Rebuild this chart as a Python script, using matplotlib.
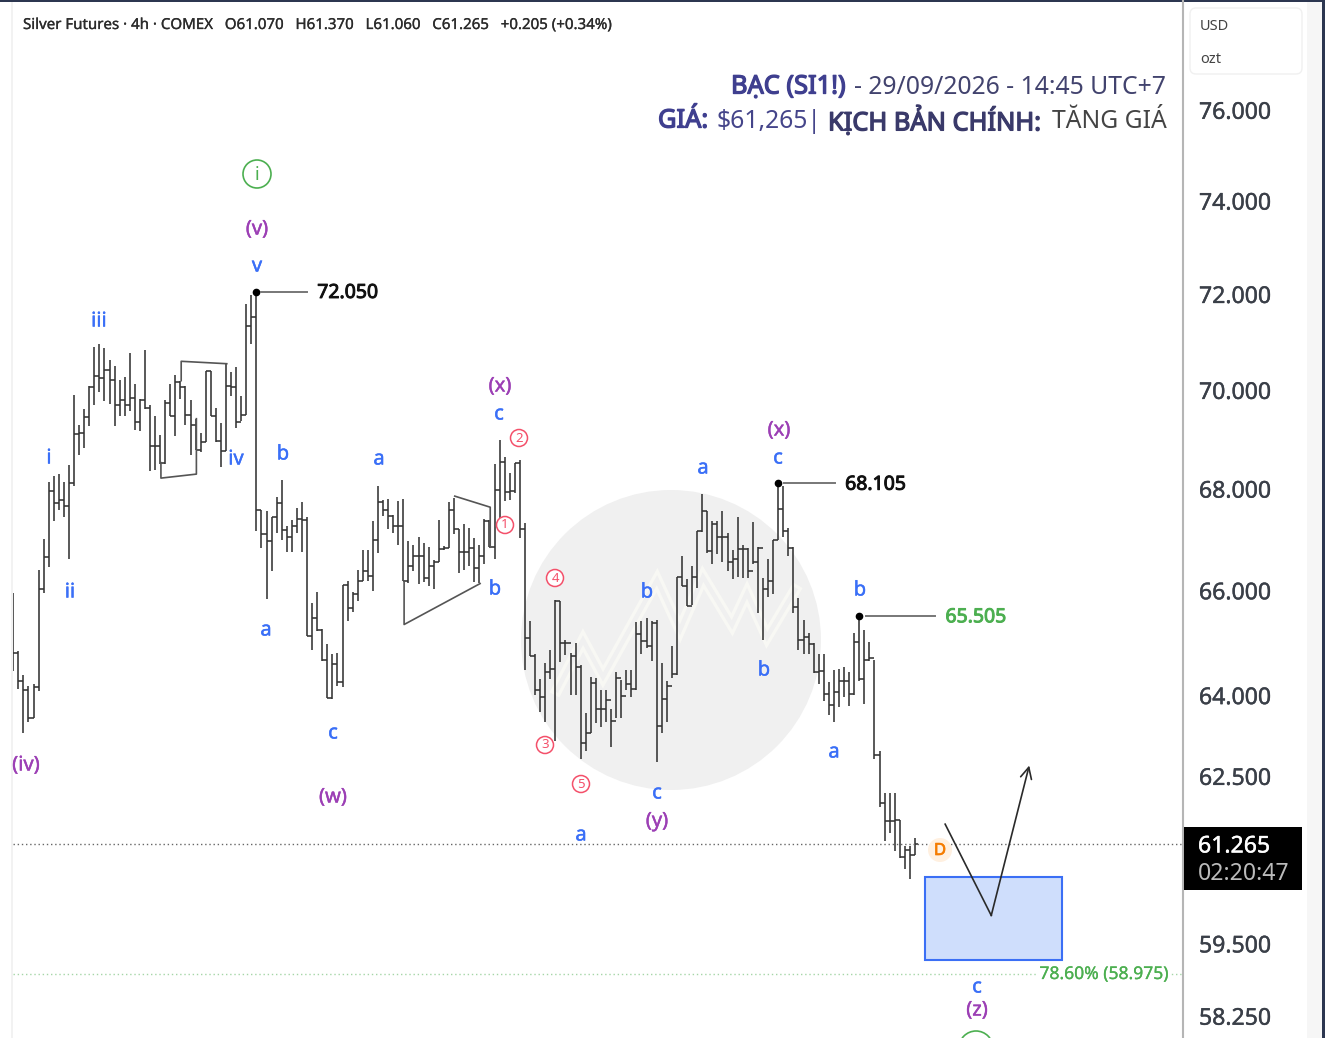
import matplotlib
matplotlib.use('Agg')
import matplotlib.pyplot as plt
import matplotlib.patheffects as pe
from matplotlib.patches import Circle, Rectangle, FancyBboxPatch
import numpy as np

plt.rcParams['font.family'] = ['Noto Sans', 'DejaVu Sans']

highs = [65.95, 64.83, 64.37, 64.18, 64.20, 66.40, 67.01, 68.13, 68.26, 68.30,
         68.13, 68.47, 69.89, 69.28, 69.61, 70.07, 70.89, 70.94, 70.87, 70.62,
         70.50, 70.20, 70.27, 70.77, 70.13, 69.81, 70.83, 69.68, 69.47, 69.07,
         69.79, 70.13, 70.31, 70.18, 70.07, 69.80, 69.41, 69.11, 70.38, 70.38,
         69.63, 69.32, 70.55, 70.36, 70.47, 69.88, 71.78, 71.97, 72.05, 67.58,
         67.55, 67.44, 67.84, 68.18, 67.25, 67.38, 67.61, 67.73, 67.44, 65.76,
         65.96, 65.26, 64.96, 64.77, 64.80, 66.11, 66.18, 65.96, 66.40, 66.78,
         66.79, 67.36, 68.06, 67.78, 67.80, 67.48, 67.75, 67.79, 66.97, 66.89,
         67.05, 66.93, 66.84, 66.58, 67.37, 66.87, 67.73, 67.81, 67.20, 67.29,
         67.22, 67.02, 66.89, 67.40, 67.38, 68.49, 68.97, 68.64, 68.31, 68.51,
         68.58, 67.32, 65.40, 64.78, 64.30, 64.61, 64.86, 65.82, 65.79, 65.04,
         64.80, 64.98, 64.56, 63.66, 64.34, 64.32, 64.09, 64.09, 63.74, 64.43,
         64.29, 64.47, 64.47, 65.39, 65.40, 65.47, 65.40, 65.43, 64.61, 64.26,
         64.92, 66.26, 66.67, 66.22, 66.48, 67.15, 67.90, 67.55, 67.35, 67.35,
         67.55, 67.12, 66.79, 67.44, 66.89, 66.82, 67.33, 66.85, 66.24, 66.60,
         66.99, 68.105, 68.05, 67.22, 66.84, 65.85, 65.43, 65.18, 64.99, 64.77,
         64.77, 64.24, 64.48, 64.49, 64.53, 64.43, 65.18, 65.505, 65.23, 65.00,
         64.66, 62.96, 62.18, 62.18, 62.18, 61.70, 61.22, 61.22, 61.37]

lows = [64.45, 64.11, 63.29, 63.49, 63.57, 64.07, 65.95, 66.45, 67.35, 67.58,
        67.44, 66.60, 68.06, 68.68, 68.81, 69.26, 69.70, 69.96, 69.77, 69.72,
        69.27, 69.47, 69.46, 69.56, 69.19, 69.15, 69.61, 68.36, 68.38, 68.50,
        68.50, 69.47, 69.05, 69.81, 69.29, 68.68, 68.78, 68.73, 68.93, 69.46,
        68.94, 68.44, 68.75, 69.88, 69.23, 69.36, 69.49, 70.94, 67.15, 66.82,
        65.83, 66.37, 67.12, 66.99, 66.74, 66.74, 67.11, 66.74, 65.12, 64.85,
        65.21, 64.64, 63.94, 63.92, 64.18, 64.16, 65.40, 65.58, 65.79, 66.18,
        66.18, 65.98, 66.73, 67.46, 67.19, 67.12, 66.89, 66.18, 66.14, 66.37,
        66.13, 66.16, 66.09, 66.03, 66.56, 66.78, 66.82, 67.09, 66.33, 66.39,
        66.47, 66.16, 66.14, 66.52, 66.84, 66.61, 67.29, 67.75, 67.78, 67.91,
        67.02, 64.47, 64.73, 64.00, 63.69, 63.50, 64.30, 63.15, 64.63, 64.75,
        64.00, 64.00, 62.81, 62.95, 63.29, 63.48, 63.40, 63.49, 63.04, 63.57,
        63.57, 64.10, 63.96, 64.10, 64.78, 64.89, 64.64, 62.76, 63.29, 63.49,
        64.32, 64.38, 66.08, 65.69, 65.72, 66.05, 67.13, 66.73, 66.51, 66.71,
        66.56, 66.37, 66.21, 66.26, 66.24, 66.24, 66.52, 65.56, 65.05, 65.87,
        65.92, 66.99, 67.05, 66.67, 65.56, 64.86, 64.77, 64.77, 64.42, 64.20,
        63.88, 63.63, 63.50, 63.77, 63.97, 63.79, 64.00, 64.26, 63.83, 64.64,
        62.81, 61.93, 61.31, 61.46, 61.13, 61.01, 60.81, 60.63, 61.06]

closes = [64.80, 64.26, 64.10, 63.57, 64.16, 66.03, 66.65, 67.95, 67.71, 67.77,
          67.65, 68.11, 69.09, 69.12, 69.45, 70.06, 70.29, 70.25, 70.42, 70.20,
          69.68, 69.80, 69.68, 69.83, 69.34, 69.80, 69.63, 68.85, 68.85, 68.51,
          69.73, 69.47, 70.16, 70.06, 69.49, 69.29, 68.78, 68.93, 70.38, 69.46,
          68.96, 68.75, 70.08, 70.06, 69.34, 69.49, 71.32, 71.51, 67.58, 67.09,
          66.96, 67.44, 67.71, 67.18, 67.05, 67.26, 67.40, 67.38, 65.12, 65.47,
          65.24, 64.66, 63.94, 64.58, 64.24, 66.10, 65.66, 65.92, 66.18, 66.37,
          66.27, 66.99, 67.73, 67.58, 67.46, 67.26, 67.26, 66.18, 66.48, 66.67,
          66.67, 66.24, 66.47, 66.56, 66.80, 66.82, 67.58, 67.20, 66.74, 66.74,
          66.82, 66.44, 66.67, 67.35, 66.85, 67.98, 68.53, 67.93, 67.95, 68.51,
          67.20, 65.08, 64.73, 64.10, 63.97, 64.43, 64.49, 65.79, 64.99, 64.99,
          64.73, 64.53, 63.10, 63.30, 64.22, 63.74, 63.74, 63.91, 63.52, 64.32,
          63.99, 64.20, 64.11, 65.15, 65.03, 64.92, 65.37, 63.42, 63.93, 64.18,
          64.40, 66.26, 66.09, 65.70, 66.26, 67.15, 67.55, 66.76, 67.29, 67.05,
          67.05, 66.56, 66.61, 66.80, 66.80, 66.37, 66.55, 66.82, 66.03, 66.18,
          66.99, 67.60, 67.15, 66.83, 65.68, 65.04, 65.11, 64.96, 64.44, 64.45,
          64.02, 63.82, 64.05, 64.26, 64.26, 64.02, 65.00, 64.30, 64.67, 64.70,
          62.89, 62.00, 61.67, 61.67, 61.70, 61.02, 61.16, 61.07, 61.265]

# each bar opens where the last one closed, the ticks join up on the chart
opens = [64.90] + closes[:-1]

price_ticks = [76, 74, 72, 70, 68, 66, 64, 62.5, 59.5, 58.25]
last_price = 61.265
fib_price = 58.975
box_prices = [59.21, 60.68]
box_bars = [179.8, 206.9]

# pivot levels: bar, price, start and end of the line, text, colour
levels = [(48, 72.05, 48.8, 57.8, '72.050', '#111111'),
          (151, 68.105, 152.0, 162.0, '68.105', '#111111'),
          (167, 65.505, 168.2, 181.8, '65.505', '#4caf50')]

# hand drawn shapes on the chart (bar, price)
shapes = [[(29, 68.52), (29, 68.21), (36, 68.29), (36, 69.41)],
          [(33, 70.19), (33, 70.59), (42, 70.54)],
          [(77, 66.18), (77, 65.34), (92, 66.13)],
          [(87, 67.85), (94, 67.63), (94, 66.84)]]
path_bars = [183.8, 192.9, 200.4]
path_prices = [61.62, 59.99, 62.69]

blue_labels = [('i', 49, 457), ('ii', 70, 591), ('iii', 99, 320), ('iv', 236, 458), ('v', 257, 265),
               ('b', 283, 453), ('a', 266, 629), ('c', 333, 732), ('a', 379, 458), ('c', 499, 413),
               ('b', 495, 588), ('b', 647, 591), ('a', 703, 467), ('c', 778, 457), ('b', 764, 669),
               ('c', 657, 792), ('a', 581, 834), ('b', 860, 589), ('a', 834, 751), ('c', 977, 986)]
purple_labels = [('(v)', 257, 228), ('(iv)', 26, 764), ('(w)', 333, 796), ('(x)', 500, 385),
                 ('(x)', 779, 429), ('(y)', 657, 820), ('(z)', 977, 1009)]
red_labels = [('1', 505, 525), ('2', 519, 438), ('3', 545, 745), ('4', 555, 578), ('5', 581, 784)]
watermark_x = [557, 583, 603, 657, 680, 703, 732, 747, 767, 795]
watermark_y = [690, 640, 677, 580, 630, 577, 625, 593, 637, 590]

W, H = 1325, 1038
fig = plt.figure(figsize=(W / 100, H / 100), dpi=100, facecolor='white')


def pixel_axes(z):
    a = fig.add_axes([0, 0, 1, 1], zorder=z)
    a.set_xlim(0, W)
    a.set_ylim(H, 0)
    a.axis('off')
    a.patch.set_alpha(0)
    return a


def heavy(col, w=0.35):
    # the installed font has no usable bold weight for this, so thicken the outline
    return [pe.withStroke(linewidth=w, foreground=col)]


bg = pixel_axes(0)
bg.add_patch(Circle((671, 640), 150, color='#f0f0f0', lw=0))
bg.plot(watermark_x, watermark_y, color='#f8f8f4', lw=8, solid_joinstyle='miter')
bg.plot(watermark_x, watermark_y, color='#f0f0f0', lw=3.2, solid_joinstyle='miter')
bg.add_patch(Rectangle((11, 0), 2, H, color='#f2f2f2', lw=0))
bg.add_patch(Rectangle((1307, 0), 15, H, color='#f6f6f6', lw=0))
bg.add_patch(Rectangle((1322, 0), 3, H, color='#2c3650', lw=0))
bg.add_patch(Rectangle((0, 0), W, 2, color='#2c3650', lw=0))

ax = fig.add_axes([13 / W, 0, 1170 / W, 1], zorder=1)
ax.patch.set_alpha(0)
ax.set_yscale('log')
ax.set_xlim(-0.2, 230.75)
ax.set_ylim(57.87, 78.49)

xs = np.arange(len(closes)) - 0.15
ax.vlines(xs, lows, highs, color='#333333', lw=1.15)
ax.hlines(opens, xs - 0.5, xs, color='#333333', lw=1.15)
ax.hlines(closes, xs, xs + 0.5, color='#333333', lw=1.15)

ax.axhline(last_price, color='#666666', lw=1, ls=(0, (1, 2)))
ax.axhline(fib_price, color='#a5d6a7', lw=1, ls=(0, (1, 2)))

for shape in shapes:
    ax.plot([p[0] for p in shape], [p[1] for p in shape], color='#555555', lw=1.2)

ax.add_patch(Rectangle((box_bars[0], box_prices[0]), box_bars[1] - box_bars[0],
                       box_prices[1] - box_prices[0], facecolor='#cfdefc', edgecolor='#3b6ff5', lw=1.5))
ax.plot(path_bars[:2], path_prices[:2], color='#2a2a2a', lw=1.2)
ax.annotate('', xy=(path_bars[2], path_prices[2]), xytext=(path_bars[1], path_prices[1]),
            arrowprops=dict(arrowstyle='->', color='#2a2a2a', lw=1.2, shrinkA=0, shrinkB=0, mutation_scale=20))

for bar, price, x0, x1, label, col in levels:
    ax.plot([bar - 0.15], [price], 'o', color='black', ms=4.5)
    ax.plot([x0, x1], [price, price], color='#777777', lw=1.4)
    ax.annotate(label, (x1, price), xytext=(7.5, -1), textcoords='offset points', va='center',
                fontsize=14, color=col, path_effects=heavy(col, 0.7))

ax.yaxis.tick_right()
ax.set_yticks(price_ticks)
ax.set_yticklabels(['%.3f' % p for p in price_ticks], fontsize=16.6, color='#3a3f48',
                   path_effects=heavy('#3a3f48', 0.3))
ax.minorticks_off()
ax.tick_params(axis='y', length=0, pad=11.5)
ax.set_xticks([])
for s in ['top', 'left', 'bottom']:
    ax.spines[s].set_visible(False)
ax.spines['right'].set_color('#b5b5b5')
ax.spines['right'].set_linewidth(1.5)

ov = pixel_axes(2)
ov.text(23, 25.5, 'Silver Futures · 4h · COMEX   O61.070   H61.370   L61.060   C61.265   +0.205 (+0.34%)',
        fontsize=10.85, color='#2b2b2b', va='center', path_effects=heavy('#2b2b2b', 0.2))

# title, every piece has its own colour and weight
title_parts = [('BẠC (SI1!)', 731, 87, True, '#3f3f8f'), ('- 29/09/2026 - 14:45 UTC+7', 854, 87, False, '#42436e'),
               ('GIÁ:', 658, 121, True, '#3f3f8f'), ('$61,265|', 716, 121, False, '#45458a'),
               ('KỊCH BẢN CHÍNH:', 828, 121, True, '#3a3a6a'), ('TĂNG GIÁ', 1052, 121, False, '#444444')]
for text, x, y, strong, col in title_parts:
    t = ov.text(x, y, text, fontsize=17.8, color=col, va='center')
    if strong:
        t.set_fontsize(18.3)
        t.set_path_effects(heavy(col, 0.95))

for text, x, y in blue_labels:
    ov.text(x, y + 1.5, text, fontsize=14.5, color='#3a6ff7', ha='center', va='center',
            path_effects=heavy('#3a6ff7', 0.3))
for text, x, y in purple_labels:
    ov.text(x, y + 1.5, text, fontsize=14.5, color='#9c3fb5', ha='center', va='center',
            path_effects=heavy('#9c3fb5', 0.3))
for text, x, y in red_labels:
    ov.add_patch(Circle((x, y), 8.5, facecolor='white', edgecolor='#f4506a', lw=1.1))
    ov.text(x, y, text, fontsize=9.5, color='#f4506a', ha='center', va='center')

ov.add_patch(Circle((257, 174), 14, facecolor='white', edgecolor='#4caf50', lw=1.2))
ov.text(257, 175, 'i', fontsize=13, color='#4caf50', ha='center', va='center')
ov.add_patch(Circle((976, 1048), 17, facecolor='white', edgecolor='#4caf50', lw=1.2))
ov.text(976, 1048, 'ii', fontsize=13, color='#4caf50', ha='center', va='center')

ov.add_patch(Circle((940, 850), 12, color='#fff0e0', lw=0))
ov.text(940, 851, 'D', fontsize=12, color='#f57c00', ha='center', va='center', path_effects=heavy('#f57c00', 0.5))

ov.text(1104, 974, '78.60% (58.975)', fontsize=12.6, color='#4caf50', ha='center', va='center',
        bbox=dict(facecolor='white', edgecolor='none', pad=1.5), path_effects=heavy('#4caf50', 0.2))

ov.add_patch(FancyBboxPatch((1192, 10), 108, 62, boxstyle='round,pad=2,rounding_size=6',
                            facecolor='white', edgecolor='#f0f0f0', lw=1))
ov.text(1200, 26.5, 'USD', fontsize=10.5, color='#444444', va='center')
ov.text(1200, 59.5, 'ozt', fontsize=10.5, color='#444444', va='center')

ov.add_patch(Rectangle((1184, 827), 118, 63, color='black', lw=0))
ov.text(1198, 846.5, '61.265', fontsize=16.6, color='white', va='center', path_effects=heavy('white', 0.3))
ov.text(1198, 874, '02:20:47', fontsize=16.6, color='#bbbbbb', va='center')

fig.savefig('out.png', dpi=100)
